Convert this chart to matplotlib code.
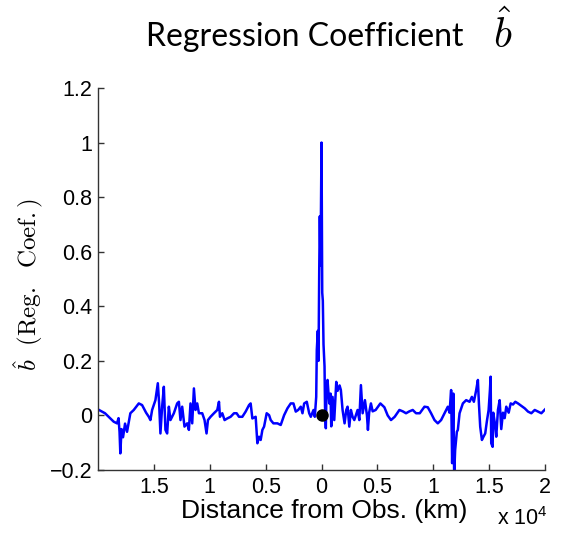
import matplotlib
matplotlib.use('Agg')
import matplotlib.pyplot as plt
from matplotlib.ticker import FuncFormatter

# distance from observation (km) and regression coefficient b-hat
dist_km = [
    -20000, -19375, -18595, -18299, -18164, -18074, -18003, -17895, -17761, -17581,
    -17402, -17106, -16801, -16352, -16056, -15698, -15455, -15312, -15159, -14863,
    -14648, -14531, -14415, -14262, -14110, -13966, -13814, -13661, -13518, -13213,
    -12917, -12764, -12621, -12468, -12262, -12020, -11867, -11724, -11571, -11419,
    -11275, -11123, -10970, -10674, -10468, -10289, -10163, -9930, -9625, -9329,
    -9176, -9087, -8880, -8674, -8432, -8136, -7831, -7598, -7382, -7086,
    -6790, -6485, -6342, -6189, -5893, -5741, -5588, -5445, -5292, -5140,
    -4907, -4691, -4548, -4306, -3947, -3651, -3346, -3050, -2754, -2512,
    -2305, -2090, -1857, -1704, -1552, -1319, -1103, -960, -718, -601,
    -475, -422, -332, -269, -206, -152, -90, 0, 63, 117,
    179, 269, 314, 386, 449, 538, 691, 807, 870, 987,
    1139, 1319, 1435, 1615, 1731, 1884, 2063, 2216, 2332, 2485,
    2628, 2781, 2933, 3229, 3382, 3525, 3678, 3884, 4063, 4153,
    4261, 4422, 4575, 4844, 5265, 5624, 5920, 6216, 6548, 6970,
    7266, 7562, 7867, 8163, 8459, 8791, 9212, 9508, 9804, 10109,
    10405, 10701, 11006, 11302, 11455, 11598, 11688, 11796, 11868, 11957,
    12110, 12199, 12352, 12648, 12944, 13249, 13455, 13634, 13841, 13993,
    14083, 14199, 14352, 14468, 14648, 14801, 14953, 15070, 15132, 15186,
    15312, 15366, 15518, 15635, 15787, 15940, 16083, 16236, 16388, 16532,
    16747, 16926, 17133, 17340, 17581, 17878, 18183, 18478, 18774, 19079,
    19375, 19672, 20000,
]
reg_coef = [
    0.022, 0.008, -0.023, -0.029, -0.010, -0.060, -0.139, -0.050, -0.080, -0.030,
    -0.060, 0.008, 0.020, 0.044, 0.038, 0.010, -0.005, -0.017, 0.020, 0.056,
    0.118, 0.044, -0.066, 0.032, 0.105, -0.053, -0.066, 0.032, -0.017, 0.008,
    0.044, 0.050, -0.017, 0.032, -0.041, -0.029, -0.053, 0.044, -0.029, 0.099,
    0.020, 0.044, 0.008, 0.008, -0.017, -0.066, -0.017, -0.005, 0.008, 0.020,
    0.050, -0.005, 0.008, -0.017, -0.011, -0.005, 0.008, 0.008, -0.005, -0.005,
    0.014, 0.038, 0.044, -0.011, -0.005, -0.102, -0.078, -0.090, -0.053, -0.041,
    0.008, 0.001, -0.017, -0.029, -0.029, -0.035, 0.001, 0.026, 0.044, 0.044,
    0.014, 0.020, 0.032, 0.008, 0.044, 0.050, 0.008, -0.005, 0.020, -0.005,
    0.068, 0.240, 0.310, 0.200, 0.530, 0.730, 0.550, 1.000, 0.450, 0.420,
    0.260, 0.180, 0.030, -0.047, 0.100, 0.130, 0.044, 0.080, -0.040, 0.068,
    -0.017, 0.123, 0.090, 0.110, 0.093, 0.020, -0.029, 0.020, 0.032, -0.041,
    0.020, -0.005, -0.017, 0.020, -0.017, 0.111, 0.008, 0.056, 0.001, -0.053,
    0.010, 0.044, 0.015, 0.020, 0.044, 0.030, 0.000, -0.017, -0.005, 0.020,
    0.015, 0.008, 0.015, 0.020, 0.008, 0.008, 0.032, 0.030, 0.008, -0.017,
    -0.029, -0.017, 0.008, 0.032, 0.010, 0.093, -0.175, 0.080, -0.220, -0.127,
    -0.060, -0.053, 0.008, 0.044, 0.056, 0.050, 0.068, 0.050, 0.093, 0.130,
    0.044, -0.041, -0.090, -0.080, -0.066, -0.020, 0.020, 0.093, 0.142, -0.102,
    -0.115, 0.010, -0.030, -0.078, 0.020, 0.056, -0.050, 0.010, -0.010, 0.032,
    0.010, 0.044, 0.040, 0.050, 0.044, 0.035, 0.026, 0.014, 0.008, 0.020,
    0.014, 0.008, 0.022,
]
obs_point = (0, 0)

x_ticks = [-15000, -10000, -5000, 0, 5000, 10000, 15000, 20000]
y_ticks = [-0.2, 0, 0.2, 0.4, 0.6, 0.8, 1.0, 1.2]

plt.rcParams['font.family'] = ['Liberation Sans', 'DejaVu Sans']
plt.rcParams['mathtext.fontset'] = 'cm'

fig = plt.figure(figsize=(5.62, 5.33), dpi=100)
ax = fig.add_axes([0.1744, 0.1182, 0.7954, 0.7167])

ax.plot(dist_km, reg_coef, color='#0000ff', linewidth=1.8)
ax.plot(*obs_point, 'o', color='black', markersize=8)

ax.set_xlim(-20000, 20000)
ax.set_ylim(-0.2, 1.2)
ax.set_xticks(x_ticks)
ax.set_yticks(y_ticks)
ax.xaxis.set_major_formatter(FuncFormatter(lambda v, p: '%g' % abs(v / 1e4)))
ax.yaxis.set_major_formatter(FuncFormatter(lambda v, p: ('%g' % v).replace('-', '\u2212')))

for s in ['top', 'right']:
    ax.spines[s].set_visible(False)
for s in ['left', 'bottom']:
    ax.spines[s].set_color('#333333')
    ax.spines[s].set_linewidth(1.0)
ax.tick_params(direction='in', length=4, width=1, color='#333333', labelsize=15.5)
ax.tick_params(axis='y', pad=4)
ax.tick_params(axis='x', pad=5)

# title: text part and b-hat
fig.text(146 / 562, 1 - 37 / 533, 'Regression Coefficient',
         ha='left', va='center', fontsize=23, family=['Lato', 'DejaVu Sans'])
fig.text(503 / 562, 1 - 34 / 533, r'$\hat{b}$',
         ha='center', va='center', fontsize=30)

# axis labels
fig.text(29 / 562, 1 - 285 / 533, r'$\hat{b}\ \ \mathrm{(Reg.\ \ Coef.)}$',
         ha='center', va='center', rotation=90, fontsize=18)
fig.text(324 / 562, 1 - 511 / 533, 'Distance from Obs. (km)',
         ha='center', va='center', fontsize=19)
fig.text(548 / 562, 1 - 519 / 533, r'x $\mathdefault{10^{4}}$',
         ha='right', va='center', fontsize=15.5)

fig.savefig('out.png', dpi=100)
